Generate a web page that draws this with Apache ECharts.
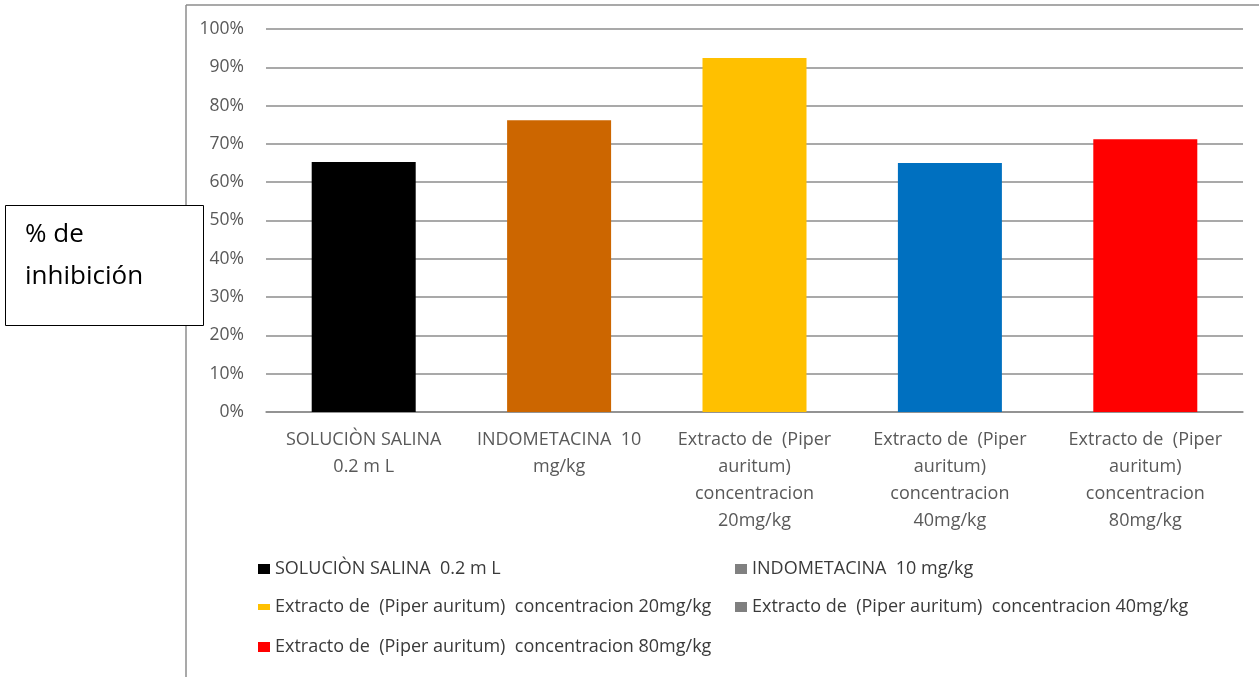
<!DOCTYPE html>
<html>
<head>
<meta charset="utf-8">
<script src="https://cdn.jsdelivr.net/npm/echarts@6/dist/echarts.min.js"></script>
<style>
  html, body { margin: 0; padding: 0; background: #ffffff; }
  #chart { width: 1259px; height: 677px; }
</style>
</head>
<body>
<div id="chart"></div>
<script>
// Treatment groups (legend names)
const categories = [
  'SOLUCIÒN SALINA  0.2 m L',
  'INDOMETACINA  10 mg/kg',
  'Extracto de  (Piper auritum)  concentracion 20mg/kg',
  'Extracto de  (Piper auritum)  concentracion 40mg/kg',
  'Extracto de  (Piper auritum)  concentracion 80mg/kg'
];
// Wrapped axis tick labels for the same groups
const tickLabels = [
  'SOLUCIÒN SALINA\n0.2 m L',
  'INDOMETACINA  10\nmg/kg',
  'Extracto de  (Piper\nauritum)\nconcentracion\n20mg/kg',
  'Extracto de  (Piper\nauritum)\nconcentracion\n40mg/kg',
  'Extracto de  (Piper\nauritum)\nconcentracion\n80mg/kg'
];
// % inhibition per group
const inhibition = [65.3, 76.2, 92.4, 65.0, 71.2];
// Bar fill colours and legend swatch colours
const barColors = ['#000000', '#CC6600', '#FFC000', '#0070C0', '#FF0000'];
const swatchColors = ['#000000', '#808080', '#FFC000', '#7F7F7F', '#FF0000'];

const FONT = '"Open Sans", sans-serif';
const TEXT_SIZE = 18;

// One stacked series per group so each has its own legend entry while
// the bar stays centred on its category.
const series = categories.map((name, i) => ({
  name: name,
  type: 'bar',
  stack: 'groups',
  barWidth: 104,
  itemStyle: { color: barColors[i] },
  data: categories.map((_, j) => (j === i ? inhibition[i] : '-'))
}));

// Legend swatch placement (marker left x, row top y)
const legendSpots = [
  { left: 258, top: 559 },
  { left: 735, top: 559 },
  { left: 258, top: 597 },
  { left: 735, top: 597 },
  { left: 258, top: 637 }
];
const legends = categories.map((name, i) => ({
  left: legendSpots[i].left,
  top: legendSpots[i].top,
  padding: 0,
  icon: 'rect',
  itemWidth: 12,
  itemHeight: i === 2 ? 6 : 10,
  data: [{ name: name, itemStyle: { color: swatchColors[i] } }],
  textStyle: { fontFamily: FONT, fontSize: TEXT_SIZE, color: '#3a3a3a', lineHeight: 20 }
}));

const chart = echarts.init(document.getElementById('chart'), null, { renderer: 'canvas' });
chart.setOption({
  backgroundColor: '#ffffff',
  animation: false,
  legend: legends,
  grid: { left: 266, right: 16, top: 29, bottom: 265, containLabel: false },
  xAxis: {
    type: 'category',
    data: categories,
    axisLine: { show: true, lineStyle: { color: '#8c8c8c', width: 1.5 } },
    axisTick: { show: false },
    axisLabel: {
      interval: 0,
      margin: 14,
      fontFamily: FONT,
      fontSize: TEXT_SIZE,
      lineHeight: 27,
      color: '#595959',
      formatter: (v, idx) => tickLabels[idx]
    }
  },
  yAxis: {
    type: 'value',
    min: 0,
    max: 100,
    interval: 10,
    axisLine: { show: false },
    axisTick: { show: false },
    splitLine: { lineStyle: { color: '#8c8c8c', width: 1.5 } },
    axisLabel: {
      margin: 22,
      fontFamily: FONT,
      fontSize: 17.5,
      color: '#595959',
      formatter: '{value}%'
    }
  },
  series: series,
  graphic: [
    // chart frame: left and top edges
    { type: 'line', silent: true, z: 50,
      shape: { x1: 186, y1: 5, x2: 186, y2: 677 },
      style: { stroke: '#8c8c8c', lineWidth: 1.5 } },
    { type: 'line', silent: true, z: 50,
      shape: { x1: 186, y1: 5, x2: 1259, y2: 5 },
      style: { stroke: '#8c8c8c', lineWidth: 1.5 } },
    // y-axis caption box
    { type: 'rect', silent: true, z: 60,
      shape: { x: 5.5, y: 205.5, width: 198, height: 120 },
      style: { fill: '#ffffff', stroke: '#000000', lineWidth: 1 } },
    { type: 'text', silent: true, z: 61,
      left: 25, top: 214,
      style: { text: '% de\ninhibición', font: '26px "Open Sans", sans-serif',
               lineHeight: 42, fill: '#000000' } }
  ]
});
</script>
</body>
</html>
